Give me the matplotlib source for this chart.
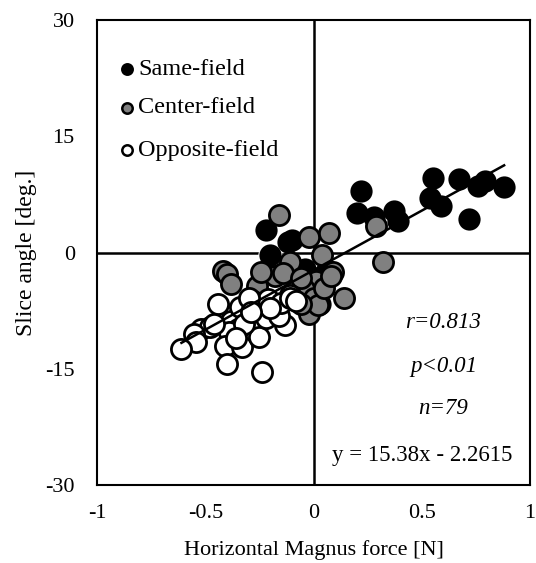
import matplotlib
matplotlib.use("Agg")
import matplotlib.pyplot as plt
import numpy as np

plt.rcParams['font.family'] = ['Liberation Serif', 'DejaVu Serif']

# Same-field (black)
same_x = [0.22, 0.20, 0.28, 0.37, 0.39, 0.55, 0.67, 0.54, 0.59, 0.72, 0.76, 0.79, 0.88,
          -0.22, -0.10, -0.12, -0.20, -0.04, 0.06, -0.02, 0.03]
same_y = [8.0, 5.1, 4.6, 5.4, 4.1, 9.7, 9.5, 7.0, 6.0, 4.3, 8.6, 9.2, 8.5,
          2.9, 1.6, 1.4, -0.3, -2.1, -2.3, -3.2, -6.6]

# Center-field (gray)
center_x = [-0.16, -0.02, 0.07, 0.29, 0.32, -0.11, 0.04, 0.09, -0.18, -0.26, 0.01, -0.045,
            0.0, 0.14, -0.02, 0.02, -0.42, -0.40, -0.38, -0.245, -0.14, -0.06, 0.05, 0.08, -0.06]
center_y = [4.8, 2.0, 2.5, 3.5, -1.25, -1.25, -0.3, -2.5, -3.0, -4.3, -3.6, -4.7,
            -5.8, -5.8, -7.9, -6.8, -2.4, -2.8, -4.0, -2.5, -2.6, -3.3, -4.5, -3.0, -6.6]

# Opposite-field (white)
opp_x = [-0.44, -0.28, -0.21, -0.11, -0.28, -0.25, -0.18, -0.13, -0.38, -0.35, -0.39, -0.52,
         -0.48, -0.55, -0.545, -0.61, -0.41, -0.33, -0.25, -0.40, -0.24, -0.34, -0.30, -0.22,
         -0.16, -0.15, -0.11, -0.32, -0.46, -0.20, -0.29, -0.08, -0.36]
opp_y = [-6.6, -6.2, -6.0, -5.5, -8.3, -9.0, -7.9, -9.4, -8.8, -9.8, -10.3, -9.8,
         -9.6, -10.5, -11.6, -12.4, -12.0, -12.2, -10.9, -14.4, -15.4, -7.0, -5.8, -8.4,
         -8.2, -6.5, -5.8, -9.2, -9.2, -7.2, -7.6, -6.2, -11.0]

slope, intercept = 15.38, -2.2615
stats = ["r=0.813", "p<0.01", "n=79"]
eq_label = "y = 15.38x - 2.2615"

x_ticks = [-1, -0.5, 0, 0.5, 1]
x_ticklabels = ["-1", "-0.5", "0", "0.5", "1"]
y_ticks = [-30, -15, 0, 15, 30]
y_ticklabels = ["-30", "-15", "0", "15", "30"]

fig = plt.figure(figsize=(5.36, 5.63), dpi=100)
ax = fig.add_axes([0.181, 0.1385, 0.808, 0.8255])

fs = 16
ms = 14.5
ax.plot(same_x, same_y, 'o', ms=ms + 2, mfc='white', mec='white', zorder=2)
ax.plot(same_x, same_y, 'o', ms=ms, mfc='black', mec='black', mew=1.5, zorder=3)
ax.plot(center_x, center_y, 'o', ms=ms, mfc='#808080', mec='black', mew=2, zorder=4)
ax.plot(opp_x, opp_y, 'o', ms=ms, mfc='white', mec='black', mew=2, zorder=5)

allx = np.array(same_x + center_x + opp_x)
lx = np.array([allx.min(), allx.max()])
ax.plot(lx, slope * lx + intercept, color='black', lw=1.8, zorder=6)

ax.axhline(0, color='black', lw=1.8, zorder=1)
ax.axvline(0, color='black', lw=1.8, zorder=1)

ax.set_xlim(-1, 1)
ax.set_ylim(-30, 30)
ax.set_xticks(x_ticks)
ax.set_xticklabels(x_ticklabels)
ax.set_yticks(y_ticks)
ax.set_yticklabels(y_ticklabels)
ax.tick_params(axis='x', length=0, labelsize=fs, pad=14)
ax.tick_params(axis='y', length=0, labelsize=fs, pad=16)
for s in ax.spines.values():
    s.set_linewidth(1.5)
ax.set_xlabel("Horizontal Magnus force [N]", fontsize=fs, labelpad=12)
ax.set_ylabel("Slice angle [deg.]", fontsize=fs + 1, labelpad=6)

# legend
leg_y = [23.7, 18.7, 13.2]
leg_fc = ['black', '#808080', 'white']
leg_ec = ['black', 'black', 'black']
leg_txt = ["Same-field", "Center-field", "Opposite-field"]
for yy, fc, ec, t in zip(leg_y, leg_fc, leg_ec, leg_txt):
    ax.plot([-0.86], [yy], 'o', ms=7.5, mfc=fc, mec=ec, mew=1.8, zorder=7)
    ax.text(-0.81, yy, t, fontsize=fs + 1.5, va='center', ha='left', zorder=7)

stat_y = [-9.0, -14.7, -20.1]
for yy, t in zip(stat_y, stats):
    ax.text(0.6, yy, t, fontsize=fs + 0.5, style='italic', ha='center', va='center')
ax.text(0.5, -26.2, eq_label, fontsize=fs + 0.5, ha='center', va='center')

fig.savefig("out.png", dpi=100)
